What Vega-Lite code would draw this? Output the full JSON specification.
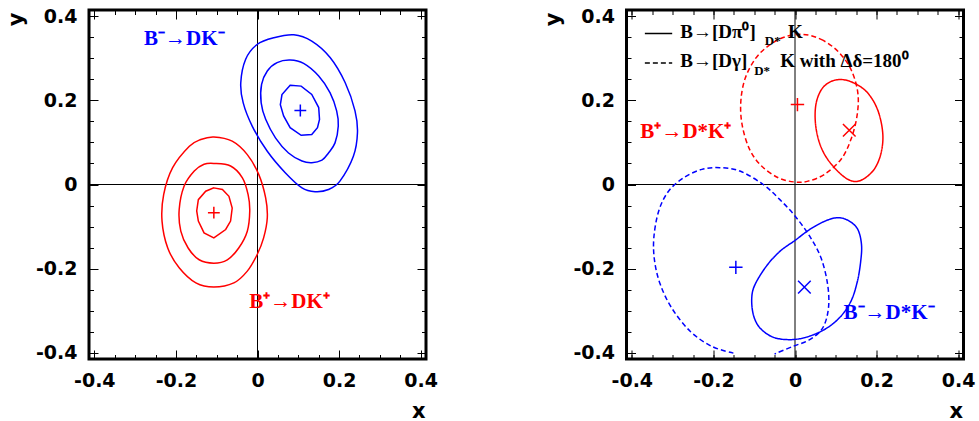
{
"$schema": "https://vega.github.io/schema/vega-lite/v6.json",
"background": "white",
"padding": {"left": 3, "top": 5, "right": 0, "bottom": 0},
"spacing": 200.5,
"bounds": "flush",
"datasets": {
"contours": [
{"p":"L","c":"Lb1","lv":"o","q":"minus","m":"DK","i":1,"x":0.040,"y":0.349},
{"p":"L","c":"Lb1","lv":"o","q":"minus","m":"DK","i":2,"x":0.089,"y":0.356},
{"p":"L","c":"Lb1","lv":"o","q":"minus","m":"DK","i":3,"x":0.133,"y":0.341},
{"p":"L","c":"Lb1","lv":"o","q":"minus","m":"DK","i":4,"x":0.178,"y":0.302},
{"p":"L","c":"Lb1","lv":"o","q":"minus","m":"DK","i":5,"x":0.215,"y":0.242},
{"p":"L","c":"Lb1","lv":"o","q":"minus","m":"DK","i":6,"x":0.239,"y":0.175},
{"p":"L","c":"Lb1","lv":"o","q":"minus","m":"DK","i":7,"x":0.245,"y":0.123},
{"p":"L","c":"Lb1","lv":"o","q":"minus","m":"DK","i":8,"x":0.235,"y":0.067},
{"p":"L","c":"Lb1","lv":"o","q":"minus","m":"DK","i":9,"x":0.202,"y":0.008},
{"p":"L","c":"Lb1","lv":"o","q":"minus","m":"DK","i":10,"x":0.174,"y":-0.012},
{"p":"L","c":"Lb1","lv":"o","q":"minus","m":"DK","i":11,"x":0.141,"y":-0.017},
{"p":"L","c":"Lb1","lv":"o","q":"minus","m":"DK","i":12,"x":0.109,"y":-0.008},
{"p":"L","c":"Lb1","lv":"o","q":"minus","m":"DK","i":13,"x":0.068,"y":0.028},
{"p":"L","c":"Lb1","lv":"o","q":"minus","m":"DK","i":14,"x":0.024,"y":0.079},
{"p":"L","c":"Lb1","lv":"o","q":"minus","m":"DK","i":15,"x":-0.013,"y":0.139},
{"p":"L","c":"Lb1","lv":"o","q":"minus","m":"DK","i":16,"x":-0.035,"y":0.194},
{"p":"L","c":"Lb1","lv":"o","q":"minus","m":"DK","i":17,"x":-0.041,"y":0.242},
{"p":"L","c":"Lb1","lv":"o","q":"minus","m":"DK","i":18,"x":-0.029,"y":0.298},
{"p":"L","c":"Lb1","lv":"o","q":"minus","m":"DK","i":19,"x":-0.001,"y":0.333},
{"p":"L","c":"Lb2","lv":"m","q":"minus","m":"DK","i":1,"x":0.048,"y":0.290},
{"p":"L","c":"Lb2","lv":"m","q":"minus","m":"DK","i":2,"x":0.080,"y":0.296},
{"p":"L","c":"Lb2","lv":"m","q":"minus","m":"DK","i":3,"x":0.113,"y":0.288},
{"p":"L","c":"Lb2","lv":"m","q":"minus","m":"DK","i":4,"x":0.150,"y":0.258},
{"p":"L","c":"Lb2","lv":"m","q":"minus","m":"DK","i":5,"x":0.178,"y":0.218},
{"p":"L","c":"Lb2","lv":"m","q":"minus","m":"DK","i":6,"x":0.194,"y":0.175},
{"p":"L","c":"Lb2","lv":"m","q":"minus","m":"DK","i":7,"x":0.198,"y":0.139},
{"p":"L","c":"Lb2","lv":"m","q":"minus","m":"DK","i":8,"x":0.190,"y":0.099},
{"p":"L","c":"Lb2","lv":"m","q":"minus","m":"DK","i":9,"x":0.174,"y":0.075},
{"p":"L","c":"Lb2","lv":"m","q":"minus","m":"DK","i":10,"x":0.158,"y":0.058},
{"p":"L","c":"Lb2","lv":"m","q":"minus","m":"DK","i":11,"x":0.133,"y":0.052},
{"p":"L","c":"Lb2","lv":"m","q":"minus","m":"DK","i":12,"x":0.109,"y":0.056},
{"p":"L","c":"Lb2","lv":"m","q":"minus","m":"DK","i":13,"x":0.076,"y":0.075},
{"p":"L","c":"Lb2","lv":"m","q":"minus","m":"DK","i":14,"x":0.044,"y":0.111},
{"p":"L","c":"Lb2","lv":"m","q":"minus","m":"DK","i":15,"x":0.020,"y":0.155},
{"p":"L","c":"Lb2","lv":"m","q":"minus","m":"DK","i":16,"x":0.009,"y":0.194},
{"p":"L","c":"Lb2","lv":"m","q":"minus","m":"DK","i":17,"x":0.010,"y":0.238},
{"p":"L","c":"Lb2","lv":"m","q":"minus","m":"DK","i":18,"x":0.024,"y":0.270},
{"p":"L","c":"Lb3","lv":"i","q":"minus","m":"DK","i":1,"x":0.080,"y":0.236},
{"p":"L","c":"Lb3","lv":"i","q":"minus","m":"DK","i":2,"x":0.107,"y":0.234},
{"p":"L","c":"Lb3","lv":"i","q":"minus","m":"DK","i":3,"x":0.133,"y":0.214},
{"p":"L","c":"Lb3","lv":"i","q":"minus","m":"DK","i":4,"x":0.150,"y":0.183},
{"p":"L","c":"Lb3","lv":"i","q":"minus","m":"DK","i":5,"x":0.152,"y":0.155},
{"p":"L","c":"Lb3","lv":"i","q":"minus","m":"DK","i":6,"x":0.147,"y":0.135},
{"p":"L","c":"Lb3","lv":"i","q":"minus","m":"DK","i":7,"x":0.133,"y":0.119},
{"p":"L","c":"Lb3","lv":"i","q":"minus","m":"DK","i":8,"x":0.107,"y":0.117},
{"p":"L","c":"Lb3","lv":"i","q":"minus","m":"DK","i":9,"x":0.080,"y":0.135},
{"p":"L","c":"Lb3","lv":"i","q":"minus","m":"DK","i":10,"x":0.064,"y":0.163},
{"p":"L","c":"Lb3","lv":"i","q":"minus","m":"DK","i":11,"x":0.056,"y":0.190},
{"p":"L","c":"Lb3","lv":"i","q":"minus","m":"DK","i":12,"x":0.060,"y":0.214},
{"p":"L","c":"Lr1","lv":"o","q":"plus","m":"DK","i":1,"x":-0.107,"y":0.113},
{"p":"L","c":"Lr1","lv":"o","q":"plus","m":"DK","i":2,"x":-0.062,"y":0.103},
{"p":"L","c":"Lr1","lv":"o","q":"plus","m":"DK","i":3,"x":-0.025,"y":0.071},
{"p":"L","c":"Lr1","lv":"o","q":"plus","m":"DK","i":4,"x":0.003,"y":0.024},
{"p":"L","c":"Lr1","lv":"o","q":"plus","m":"DK","i":5,"x":0.020,"y":-0.032},
{"p":"L","c":"Lr1","lv":"o","q":"plus","m":"DK","i":6,"x":0.024,"y":-0.079},
{"p":"L","c":"Lr1","lv":"o","q":"plus","m":"DK","i":7,"x":0.015,"y":-0.127},
{"p":"L","c":"Lr1","lv":"o","q":"plus","m":"DK","i":8,"x":-0.001,"y":-0.167},
{"p":"L","c":"Lr1","lv":"o","q":"plus","m":"DK","i":9,"x":-0.025,"y":-0.206},
{"p":"L","c":"Lr1","lv":"o","q":"plus","m":"DK","i":10,"x":-0.058,"y":-0.234},
{"p":"L","c":"Lr1","lv":"o","q":"plus","m":"DK","i":11,"x":-0.107,"y":-0.244},
{"p":"L","c":"Lr1","lv":"o","q":"plus","m":"DK","i":12,"x":-0.151,"y":-0.234},
{"p":"L","c":"Lr1","lv":"o","q":"plus","m":"DK","i":13,"x":-0.192,"y":-0.198},
{"p":"L","c":"Lr1","lv":"o","q":"plus","m":"DK","i":14,"x":-0.220,"y":-0.151},
{"p":"L","c":"Lr1","lv":"o","q":"plus","m":"DK","i":15,"x":-0.234,"y":-0.087},
{"p":"L","c":"Lr1","lv":"o","q":"plus","m":"DK","i":16,"x":-0.230,"y":-0.024},
{"p":"L","c":"Lr1","lv":"o","q":"plus","m":"DK","i":17,"x":-0.208,"y":0.040},
{"p":"L","c":"Lr1","lv":"o","q":"plus","m":"DK","i":18,"x":-0.167,"y":0.091},
{"p":"L","c":"Lr1","lv":"o","q":"plus","m":"DK","i":19,"x":-0.139,"y":0.107},
{"p":"L","c":"Lr2","lv":"m","q":"plus","m":"DK","i":1,"x":-0.107,"y":0.050},
{"p":"L","c":"Lr2","lv":"m","q":"plus","m":"DK","i":2,"x":-0.066,"y":0.044},
{"p":"L","c":"Lr2","lv":"m","q":"plus","m":"DK","i":3,"x":-0.037,"y":0.016},
{"p":"L","c":"Lr2","lv":"m","q":"plus","m":"DK","i":4,"x":-0.023,"y":-0.024},
{"p":"L","c":"Lr2","lv":"m","q":"plus","m":"DK","i":5,"x":-0.019,"y":-0.063},
{"p":"L","c":"Lr2","lv":"m","q":"plus","m":"DK","i":6,"x":-0.025,"y":-0.111},
{"p":"L","c":"Lr2","lv":"m","q":"plus","m":"DK","i":7,"x":-0.046,"y":-0.151},
{"p":"L","c":"Lr2","lv":"m","q":"plus","m":"DK","i":8,"x":-0.074,"y":-0.179},
{"p":"L","c":"Lr2","lv":"m","q":"plus","m":"DK","i":9,"x":-0.107,"y":-0.187},
{"p":"L","c":"Lr2","lv":"m","q":"plus","m":"DK","i":10,"x":-0.143,"y":-0.179},
{"p":"L","c":"Lr2","lv":"m","q":"plus","m":"DK","i":11,"x":-0.170,"y":-0.151},
{"p":"L","c":"Lr2","lv":"m","q":"plus","m":"DK","i":12,"x":-0.188,"y":-0.111},
{"p":"L","c":"Lr2","lv":"m","q":"plus","m":"DK","i":13,"x":-0.192,"y":-0.060},
{"p":"L","c":"Lr2","lv":"m","q":"plus","m":"DK","i":14,"x":-0.180,"y":-0.004},
{"p":"L","c":"Lr2","lv":"m","q":"plus","m":"DK","i":15,"x":-0.155,"y":0.032},
{"p":"L","c":"Lr2","lv":"m","q":"plus","m":"DK","i":16,"x":-0.131,"y":0.048},
{"p":"L","c":"Lr3","lv":"i","q":"plus","m":"DK","i":1,"x":-0.107,"y":-0.008},
{"p":"L","c":"Lr3","lv":"i","q":"plus","m":"DK","i":2,"x":-0.086,"y":-0.012},
{"p":"L","c":"Lr3","lv":"i","q":"plus","m":"DK","i":3,"x":-0.070,"y":-0.028},
{"p":"L","c":"Lr3","lv":"i","q":"plus","m":"DK","i":4,"x":-0.062,"y":-0.056},
{"p":"L","c":"Lr3","lv":"i","q":"plus","m":"DK","i":5,"x":-0.066,"y":-0.087},
{"p":"L","c":"Lr3","lv":"i","q":"plus","m":"DK","i":6,"x":-0.078,"y":-0.107},
{"p":"L","c":"Lr3","lv":"i","q":"plus","m":"DK","i":7,"x":-0.107,"y":-0.127},
{"p":"L","c":"Lr3","lv":"i","q":"plus","m":"DK","i":8,"x":-0.131,"y":-0.115},
{"p":"L","c":"Lr3","lv":"i","q":"plus","m":"DK","i":9,"x":-0.145,"y":-0.087},
{"p":"L","c":"Lr3","lv":"i","q":"plus","m":"DK","i":10,"x":-0.149,"y":-0.063},
{"p":"L","c":"Lr3","lv":"i","q":"plus","m":"DK","i":11,"x":-0.145,"y":-0.036},
{"p":"L","c":"Lr3","lv":"i","q":"plus","m":"DK","i":12,"x":-0.127,"y":-0.016},
{"p":"R","c":"Rr1","lv":"o","q":"plus","m":"Dgamma","i":1,"x":0.020,"y":0.357},
{"p":"R","c":"Rr1","lv":"o","q":"plus","m":"Dgamma","i":2,"x":0.064,"y":0.345},
{"p":"R","c":"Rr1","lv":"o","q":"plus","m":"Dgamma","i":3,"x":0.105,"y":0.317},
{"p":"R","c":"Rr1","lv":"o","q":"plus","m":"Dgamma","i":4,"x":0.137,"y":0.274},
{"p":"R","c":"Rr1","lv":"o","q":"plus","m":"Dgamma","i":5,"x":0.154,"y":0.218},
{"p":"R","c":"Rr1","lv":"o","q":"plus","m":"Dgamma","i":6,"x":0.152,"y":0.163},
{"p":"R","c":"Rr1","lv":"o","q":"plus","m":"Dgamma","i":7,"x":0.137,"y":0.107},
{"p":"R","c":"Rr1","lv":"o","q":"plus","m":"Dgamma","i":8,"x":0.113,"y":0.060},
{"p":"R","c":"Rr1","lv":"o","q":"plus","m":"Dgamma","i":9,"x":0.072,"y":0.024},
{"p":"R","c":"Rr1","lv":"o","q":"plus","m":"Dgamma","i":10,"x":0.032,"y":0.008},
{"p":"R","c":"Rr1","lv":"o","q":"plus","m":"Dgamma","i":11,"x":-0.001,"y":0.006},
{"p":"R","c":"Rr1","lv":"o","q":"plus","m":"Dgamma","i":12,"x":-0.041,"y":0.016},
{"p":"R","c":"Rr1","lv":"o","q":"plus","m":"Dgamma","i":13,"x":-0.082,"y":0.044},
{"p":"R","c":"Rr1","lv":"o","q":"plus","m":"Dgamma","i":14,"x":-0.111,"y":0.083},
{"p":"R","c":"Rr1","lv":"o","q":"plus","m":"Dgamma","i":15,"x":-0.129,"y":0.139},
{"p":"R","c":"Rr1","lv":"o","q":"plus","m":"Dgamma","i":16,"x":-0.133,"y":0.194},
{"p":"R","c":"Rr1","lv":"o","q":"plus","m":"Dgamma","i":17,"x":-0.123,"y":0.250},
{"p":"R","c":"Rr1","lv":"o","q":"plus","m":"Dgamma","i":18,"x":-0.098,"y":0.298},
{"p":"R","c":"Rr1","lv":"o","q":"plus","m":"Dgamma","i":19,"x":-0.066,"y":0.329},
{"p":"R","c":"Rr1","lv":"o","q":"plus","m":"Dgamma","i":20,"x":-0.025,"y":0.351},
{"p":"R","c":"Rr2","lv":"o","q":"plus","m":"Dpi0","i":1,"x":0.097,"y":0.248},
{"p":"R","c":"Rr2","lv":"o","q":"plus","m":"Dpi0","i":2,"x":0.133,"y":0.246},
{"p":"R","c":"Rr2","lv":"o","q":"plus","m":"Dpi0","i":3,"x":0.174,"y":0.222},
{"p":"R","c":"Rr2","lv":"o","q":"plus","m":"Dpi0","i":4,"x":0.202,"y":0.179},
{"p":"R","c":"Rr2","lv":"o","q":"plus","m":"Dpi0","i":5,"x":0.215,"y":0.123},
{"p":"R","c":"Rr2","lv":"o","q":"plus","m":"Dpi0","i":6,"x":0.211,"y":0.075},
{"p":"R","c":"Rr2","lv":"o","q":"plus","m":"Dpi0","i":7,"x":0.194,"y":0.036},
{"p":"R","c":"Rr2","lv":"o","q":"plus","m":"Dpi0","i":8,"x":0.166,"y":0.012},
{"p":"R","c":"Rr2","lv":"o","q":"plus","m":"Dpi0","i":9,"x":0.141,"y":0.008},
{"p":"R","c":"Rr2","lv":"o","q":"plus","m":"Dpi0","i":10,"x":0.113,"y":0.024},
{"p":"R","c":"Rr2","lv":"o","q":"plus","m":"Dpi0","i":11,"x":0.080,"y":0.060},
{"p":"R","c":"Rr2","lv":"o","q":"plus","m":"Dpi0","i":12,"x":0.060,"y":0.099},
{"p":"R","c":"Rr2","lv":"o","q":"plus","m":"Dpi0","i":13,"x":0.050,"y":0.147},
{"p":"R","c":"Rr2","lv":"o","q":"plus","m":"Dpi0","i":14,"x":0.052,"y":0.194},
{"p":"R","c":"Rr2","lv":"o","q":"plus","m":"Dpi0","i":15,"x":0.068,"y":0.230},
{"p":"R","c":"Rb2","lv":"o","q":"minus","m":"Dpi0","i":1,"x":0.107,"y":-0.079},
{"p":"R","c":"Rb2","lv":"o","q":"minus","m":"Dpi0","i":2,"x":0.133,"y":-0.087},
{"p":"R","c":"Rb2","lv":"o","q":"minus","m":"Dpi0","i":3,"x":0.154,"y":-0.107},
{"p":"R","c":"Rb2","lv":"o","q":"minus","m":"Dpi0","i":4,"x":0.163,"y":-0.143},
{"p":"R","c":"Rb2","lv":"o","q":"minus","m":"Dpi0","i":5,"x":0.161,"y":-0.183},
{"p":"R","c":"Rb2","lv":"o","q":"minus","m":"Dpi0","i":6,"x":0.153,"y":-0.230},
{"p":"R","c":"Rb2","lv":"o","q":"minus","m":"Dpi0","i":7,"x":0.137,"y":-0.278},
{"p":"R","c":"Rb2","lv":"o","q":"minus","m":"Dpi0","i":8,"x":0.109,"y":-0.317},
{"p":"R","c":"Rb2","lv":"o","q":"minus","m":"Dpi0","i":9,"x":0.072,"y":-0.345},
{"p":"R","c":"Rb2","lv":"o","q":"minus","m":"Dpi0","i":10,"x":0.028,"y":-0.363},
{"p":"R","c":"Rb2","lv":"o","q":"minus","m":"Dpi0","i":11,"x":-0.013,"y":-0.369},
{"p":"R","c":"Rb2","lv":"o","q":"minus","m":"Dpi0","i":12,"x":-0.054,"y":-0.363},
{"p":"R","c":"Rb2","lv":"o","q":"minus","m":"Dpi0","i":13,"x":-0.086,"y":-0.341},
{"p":"R","c":"Rb2","lv":"o","q":"minus","m":"Dpi0","i":14,"x":-0.102,"y":-0.310},
{"p":"R","c":"Rb2","lv":"o","q":"minus","m":"Dpi0","i":15,"x":-0.106,"y":-0.270},
{"p":"R","c":"Rb2","lv":"o","q":"minus","m":"Dpi0","i":16,"x":-0.098,"y":-0.238},
{"p":"R","c":"Rb2","lv":"o","q":"minus","m":"Dpi0","i":17,"x":-0.070,"y":-0.194},
{"p":"R","c":"Rb2","lv":"o","q":"minus","m":"Dpi0","i":18,"x":-0.037,"y":-0.159},
{"p":"R","c":"Rb2","lv":"o","q":"minus","m":"Dpi0","i":19,"x":0.000,"y":-0.133},
{"p":"R","c":"Rb2","lv":"o","q":"minus","m":"Dpi0","i":20,"x":0.036,"y":-0.107},
{"p":"R","c":"Rb2","lv":"o","q":"minus","m":"Dpi0","i":21,"x":0.076,"y":-0.086},
{"p":"R","c":"Rb1","lv":"open","q":"minus","m":"Dgamma","i":1,"x":-0.151,"y":-0.401},
{"p":"R","c":"Rb1","lv":"open","q":"minus","m":"Dgamma","i":2,"x":-0.204,"y":-0.385},
{"p":"R","c":"Rb1","lv":"open","q":"minus","m":"Dgamma","i":3,"x":-0.257,"y":-0.349},
{"p":"R","c":"Rb1","lv":"open","q":"minus","m":"Dgamma","i":4,"x":-0.302,"y":-0.294},
{"p":"R","c":"Rb1","lv":"open","q":"minus","m":"Dgamma","i":5,"x":-0.330,"y":-0.238},
{"p":"R","c":"Rb1","lv":"open","q":"minus","m":"Dgamma","i":6,"x":-0.344,"y":-0.183},
{"p":"R","c":"Rb1","lv":"open","q":"minus","m":"Dgamma","i":7,"x":-0.346,"y":-0.127},
{"p":"R","c":"Rb1","lv":"open","q":"minus","m":"Dgamma","i":8,"x":-0.334,"y":-0.063},
{"p":"R","c":"Rb1","lv":"open","q":"minus","m":"Dgamma","i":9,"x":-0.310,"y":-0.016},
{"p":"R","c":"Rb1","lv":"open","q":"minus","m":"Dgamma","i":10,"x":-0.273,"y":0.016},
{"p":"R","c":"Rb1","lv":"open","q":"minus","m":"Dgamma","i":11,"x":-0.228,"y":0.036},
{"p":"R","c":"Rb1","lv":"open","q":"minus","m":"Dgamma","i":12,"x":-0.184,"y":0.040},
{"p":"R","c":"Rb1","lv":"open","q":"minus","m":"Dgamma","i":13,"x":-0.135,"y":0.032},
{"p":"R","c":"Rb1","lv":"open","q":"minus","m":"Dgamma","i":14,"x":-0.078,"y":0.000},
{"p":"R","c":"Rb1","lv":"open","q":"minus","m":"Dgamma","i":15,"x":-0.037,"y":-0.036},
{"p":"R","c":"Rb1","lv":"open","q":"minus","m":"Dgamma","i":16,"x":0.000,"y":-0.075},
{"p":"R","c":"Rb1","lv":"open","q":"minus","m":"Dgamma","i":17,"x":0.036,"y":-0.123},
{"p":"R","c":"Rb1","lv":"open","q":"minus","m":"Dgamma","i":18,"x":0.064,"y":-0.175},
{"p":"R","c":"Rb1","lv":"open","q":"minus","m":"Dgamma","i":19,"x":0.080,"y":-0.238},
{"p":"R","c":"Rb1","lv":"open","q":"minus","m":"Dgamma","i":20,"x":0.082,"y":-0.294},
{"p":"R","c":"Rb1","lv":"open","q":"minus","m":"Dgamma","i":21,"x":0.068,"y":-0.341},
{"p":"R","c":"Rb1","lv":"open","q":"minus","m":"Dgamma","i":22,"x":0.036,"y":-0.369},
{"p":"R","c":"Rb1","lv":"open","q":"minus","m":"Dgamma","i":23,"x":-0.005,"y":-0.385},
{"p":"R","c":"Rb1","lv":"open","q":"minus","m":"Dgamma","i":24,"x":-0.050,"y":-0.403}
],
"markers": [
{"p":"L","q":"minus","m":"DK","x":0.105,"y":0.176},
{"p":"L","q":"plus","m":"DK","x":-0.107,"y":-0.067},
{"p":"R","q":"plus","m":"Dgamma","x":0.006,"y":0.190},
{"p":"R","q":"plus","m":"Dpi0","x":0.133,"y":0.129},
{"p":"R","q":"minus","m":"Dgamma","x":-0.145,"y":-0.197},
{"p":"R","q":"minus","m":"Dpi0","x":0.023,"y":-0.244}
],
"labels": [
{"p":"L","q":"minus","t":"B⁻→DK⁻","x":-0.278,"y":0.332},
{"p":"L","q":"plus","t":"B⁺→DK⁺","x":-0.020,"y":-0.294},
{"p":"R","q":"plus","t":"B⁺→D*K⁺","x":-0.379,"y":0.111},
{"p":"R","q":"minus","t":"B⁻→D*K⁻","x":0.119,"y":-0.319}
],
"legendText": [
{"r":"main","t":"B→[Dπ⁰]","x":-0.281,"y":0.348},
{"r":"sub","t":"D*","x":-0.074,"y":0.331},
{"r":"main","t":"K","x":-0.017,"y":0.348},
{"r":"main","t":"B→[Dγ]","x":-0.281,"y":0.279},
{"r":"sub","t":"D*","x":-0.100,"y":0.261},
{"r":"main","t":"K with Δδ=180⁰","x":-0.036,"y":0.279}
],
"legendLines": [
{"m":"Dpi0","x":-0.368,"x2":-0.301,"y":0.359},
{"m":"Dgamma","x":-0.368,"x2":-0.301,"y":0.289}
],
"zeros": [{"v":0}]
},
"hconcat": [
{
"width": 337, "height": 349,
"resolve": {"axis": {"x": "independent", "y": "independent"}},
"layer": [
{"data": {"name": "zeros"}, "mark": {"type": "rule", "color": "black", "strokeWidth": 1},
 "encoding": {"x": {"field": "v", "type": "quantitative", "scale": {"domain": [-0.413, 0.413], "nice": false, "zero": false}, "axis": null}}},
{"data": {"name": "zeros"}, "mark": {"type": "rule", "color": "black", "strokeWidth": 1},
 "encoding": {"y": {"field": "v", "type": "quantitative", "scale": {"domain": [-0.415, 0.415], "nice": false, "zero": false}, "axis": null}}},
{"data": {"name": "contours"}, "transform": [{"filter": "datum.p == 'L' && datum.lv != 'i'"}],
 "mark": {"type": "line", "interpolate": "cardinal-closed", "strokeWidth": 1.5},
 "encoding": {
  "x": {"field": "x", "type": "quantitative", "scale": {"domain": [-0.413, 0.413], "nice": false, "zero": false},
   "axis": {"orient": "bottom", "values": [-0.4, -0.2, 0, 0.2, 0.4], "ticks": false, "domain": false, "grid": false,
    "labelExpr": "datum.value < 0 ? '-' + format(-datum.value, '.1f') : (datum.value == 0 ? '0' : format(datum.value, '.1f'))",
    "labelFont": "DejaVu Sans", "labelFontWeight": "bold", "labelFontSize": 19, "labelColor": "black", "labelPadding": 27, "labelBaseline": "alphabetic", "labelFlush": false, "labelOverlap": false,
    "title": "x", "titleFont": "DejaVu Sans", "titleFontWeight": "bold", "titleFontSize": 21, "titleColor": "black", "titleAlign": "right", "titleBaseline": "alphabetic", "titleX": 336, "titleY": 58}},
  "y": {"field": "y", "type": "quantitative", "scale": {"domain": [-0.415, 0.415], "nice": false, "zero": false},
   "axis": {"orient": "left", "values": [-0.4, -0.2, 0, 0.2, 0.4], "ticks": false, "domain": false, "grid": false,
    "labelExpr": "datum.value < 0 ? '-' + format(-datum.value, '.1f') : (datum.value == 0 ? '0' : format(datum.value, '.1f'))",
    "labelFont": "DejaVu Sans", "labelFontWeight": "bold", "labelFontSize": 19, "labelColor": "black", "labelPadding": 12, "labelAlign": "right", "labelBaseline": "middle", "labelFlush": false, "labelOverlap": false,
    "title": "y", "titleFont": "DejaVu Sans", "titleFontWeight": "bold", "titleFontSize": 21, "titleColor": "black", "titleAngle": 270, "titleAlign": "right", "titleBaseline": "alphabetic", "titleX": -67, "titleY": 2}},
  "color": {"field": "q", "type": "nominal", "scale": {"domain": ["minus", "plus"], "range": ["#0000ff", "#ff0000"]}, "legend": null},
  "detail": {"field": "c"},
  "order": {"field": "i", "type": "quantitative"}
 }},
{"data": {"name": "contours"}, "transform": [{"filter": "datum.p == 'L' && datum.lv == 'i'"}],
 "mark": {"type": "line", "interpolate": "linear-closed", "strokeWidth": 1.5},
 "encoding": {
  "x": {"field": "x", "type": "quantitative", "scale": {"domain": [-0.413, 0.413], "nice": false, "zero": false},
   "axis": {"orient": "bottom", "values": [-0.4, -0.2, 0, 0.2, 0.4], "labels": false, "domain": false, "grid": false, "ticks": true, "tickSize": -9, "tickColor": "black", "tickWidth": 1, "title": null}},
  "y": {"field": "y", "type": "quantitative", "scale": {"domain": [-0.415, 0.415], "nice": false, "zero": false},
   "axis": {"orient": "left", "values": [-0.4, -0.2, 0, 0.2, 0.4], "labels": false, "domain": false, "grid": false, "ticks": true, "tickSize": -9, "tickColor": "black", "tickWidth": 1, "title": null}},
  "color": {"field": "q", "type": "nominal", "scale": {"domain": ["minus", "plus"], "range": ["#0000ff", "#ff0000"]}, "legend": null},
  "detail": {"field": "c"},
  "order": {"field": "i", "type": "quantitative"}
 }},
{"data": {"name": "markers"}, "transform": [{"filter": "datum.p == 'L'"}],
 "mark": {"type": "point", "filled": false, "strokeWidth": 1.5, "opacity": 1},
 "encoding": {
  "x": {"field": "x", "type": "quantitative", "scale": {"domain": [-0.413, 0.413], "nice": false, "zero": false},
   "axis": {"orient": "bottom", "values": [-0.4,-0.35,-0.3,-0.25,-0.2,-0.15,-0.1,-0.05,0,0.05,0.1,0.15,0.2,0.25,0.3,0.35,0.4], "labels": false, "domain": false, "grid": false, "ticks": true, "tickSize": -4.5, "tickColor": "black", "tickWidth": 1, "title": null}},
  "y": {"field": "y", "type": "quantitative", "scale": {"domain": [-0.415, 0.415], "nice": false, "zero": false},
   "axis": {"orient": "left", "values": [-0.4,-0.35,-0.3,-0.25,-0.2,-0.15,-0.1,-0.05,0,0.05,0.1,0.15,0.2,0.25,0.3,0.35,0.4], "labels": false, "domain": false, "grid": false, "ticks": true, "tickSize": -4.5, "tickColor": "black", "tickWidth": 1, "title": null}},
  "color": {"field": "q", "type": "nominal", "scale": {"domain": ["minus", "plus"], "range": ["#0000ff", "#ff0000"]}, "legend": null},
  "shape": {"field": "m", "type": "nominal", "scale": {"domain": ["DK", "Dpi0", "Dgamma"], "range": ["M-1,0L1,0M0,-1L0,1", "M-1,-1L1,1M-1,1L1,-1", "M-1,0L1,0M0,-1L0,1"]}, "legend": null},
  "size": {"field": "m", "type": "nominal", "scale": {"domain": ["DK", "Dpi0", "Dgamma"], "range": [140, 180, 196]}, "legend": null}
 }},
{"data": {"name": "labels"}, "transform": [{"filter": "datum.p == 'L' && datum.q == 'minus'"}],
 "mark": {"type": "text", "font": "Liberation Serif", "fontWeight": "bold", "fontSize": 21, "align": "left", "baseline": "alphabetic"},
 "encoding": {
  "x": {"field": "x", "type": "quantitative", "scale": {"domain": [-0.413, 0.413], "nice": false, "zero": false},
   "axis": {"orient": "top", "values": [-0.4, -0.2, 0, 0.2, 0.4], "labels": false, "domain": false, "grid": false, "ticks": true, "tickSize": -9, "tickColor": "black", "tickWidth": 1, "title": null}},
  "y": {"field": "y", "type": "quantitative", "scale": {"domain": [-0.415, 0.415], "nice": false, "zero": false},
   "axis": {"orient": "right", "values": [-0.4, -0.2, 0, 0.2, 0.4], "labels": false, "domain": false, "grid": false, "ticks": true, "tickSize": -9, "tickColor": "black", "tickWidth": 1, "title": null}},
  "text": {"field": "t"},
  "color": {"field": "q", "type": "nominal", "scale": {"domain": ["minus", "plus"], "range": ["#0000ff", "#ff0000"]}, "legend": null}
 }},
{"data": {"name": "labels"}, "transform": [{"filter": "datum.p == 'L' && datum.q == 'plus'"}],
 "mark": {"type": "text", "font": "Liberation Serif", "fontWeight": "bold", "fontSize": 21, "align": "left", "baseline": "alphabetic"},
 "encoding": {
  "x": {"field": "x", "type": "quantitative", "scale": {"domain": [-0.413, 0.413], "nice": false, "zero": false},
   "axis": {"orient": "top", "values": [-0.4,-0.35,-0.3,-0.25,-0.2,-0.15,-0.1,-0.05,0,0.05,0.1,0.15,0.2,0.25,0.3,0.35,0.4], "labels": false, "domain": false, "grid": false, "ticks": true, "tickSize": -4.5, "tickColor": "black", "tickWidth": 1, "title": null}},
  "y": {"field": "y", "type": "quantitative", "scale": {"domain": [-0.415, 0.415], "nice": false, "zero": false},
   "axis": {"orient": "right", "values": [-0.4,-0.35,-0.3,-0.25,-0.2,-0.15,-0.1,-0.05,0,0.05,0.1,0.15,0.2,0.25,0.3,0.35,0.4], "labels": false, "domain": false, "grid": false, "ticks": true, "tickSize": -4.5, "tickColor": "black", "tickWidth": 1, "title": null}},
  "text": {"field": "t"},
  "color": {"field": "q", "type": "nominal", "scale": {"domain": ["minus", "plus"], "range": ["#0000ff", "#ff0000"]}, "legend": null}
 }}
]
},
{
"width": 337, "height": 349,
"resolve": {"axis": {"x": "independent", "y": "independent"}},
"layer": [
{"data": {"name": "zeros"}, "mark": {"type": "rule", "color": "black", "strokeWidth": 1},
 "encoding": {"x": {"field": "v", "type": "quantitative", "scale": {"domain": [-0.413, 0.413], "nice": false, "zero": false}, "axis": null}}},
{"data": {"name": "zeros"}, "mark": {"type": "rule", "color": "black", "strokeWidth": 1},
 "encoding": {"y": {"field": "v", "type": "quantitative", "scale": {"domain": [-0.415, 0.415], "nice": false, "zero": false}, "axis": null}}},
{"data": {"name": "contours"}, "transform": [{"filter": "datum.p == 'R' && datum.lv != 'open'"}],
 "mark": {"type": "line", "interpolate": "cardinal-closed", "strokeWidth": 1.5},
 "encoding": {
  "x": {"field": "x", "type": "quantitative", "scale": {"domain": [-0.413, 0.413], "nice": false, "zero": false},
   "axis": {"orient": "bottom", "values": [-0.4, -0.2, 0, 0.2, 0.4], "ticks": false, "domain": false, "grid": false,
    "labelExpr": "datum.value < 0 ? '-' + format(-datum.value, '.1f') : (datum.value == 0 ? '0' : format(datum.value, '.1f'))",
    "labelFont": "DejaVu Sans", "labelFontWeight": "bold", "labelFontSize": 19, "labelColor": "black", "labelPadding": 27, "labelBaseline": "alphabetic", "labelFlush": false, "labelOverlap": false,
    "title": "x", "titleFont": "DejaVu Sans", "titleFontWeight": "bold", "titleFontSize": 21, "titleColor": "black", "titleAlign": "right", "titleBaseline": "alphabetic", "titleX": 336, "titleY": 58}},
  "y": {"field": "y", "type": "quantitative", "scale": {"domain": [-0.415, 0.415], "nice": false, "zero": false},
   "axis": {"orient": "left", "values": [-0.4, -0.2, 0, 0.2, 0.4], "ticks": false, "domain": false, "grid": false,
    "labelExpr": "datum.value < 0 ? '-' + format(-datum.value, '.1f') : (datum.value == 0 ? '0' : format(datum.value, '.1f'))",
    "labelFont": "DejaVu Sans", "labelFontWeight": "bold", "labelFontSize": 19, "labelColor": "black", "labelPadding": 12, "labelAlign": "right", "labelBaseline": "middle", "labelFlush": false, "labelOverlap": false,
    "title": "y", "titleFont": "DejaVu Sans", "titleFontWeight": "bold", "titleFontSize": 21, "titleColor": "black", "titleAngle": 270, "titleAlign": "right", "titleBaseline": "alphabetic", "titleX": -67, "titleY": 2}},
  "color": {"field": "q", "type": "nominal", "scale": {"domain": ["minus", "plus"], "range": ["#0000ff", "#ff0000"]}, "legend": null},
  "strokeDash": {"field": "m", "type": "nominal", "scale": {"domain": ["DK", "Dpi0", "Dgamma"], "range": [[1, 0], [1, 0], [5, 3]]}, "legend": null},
  "detail": {"field": "c"},
  "order": {"field": "i", "type": "quantitative"}
 }},
{"data": {"name": "contours"}, "transform": [{"filter": "datum.p == 'R' && datum.lv == 'open'"}],
 "mark": {"type": "line", "interpolate": "cardinal", "strokeWidth": 1.5},
 "encoding": {
  "x": {"field": "x", "type": "quantitative", "scale": {"domain": [-0.413, 0.413], "nice": false, "zero": false},
   "axis": {"orient": "bottom", "values": [-0.4, -0.2, 0, 0.2, 0.4], "labels": false, "domain": false, "grid": false, "ticks": true, "tickSize": -9, "tickColor": "black", "tickWidth": 1, "title": null}},
  "y": {"field": "y", "type": "quantitative", "scale": {"domain": [-0.415, 0.415], "nice": false, "zero": false},
   "axis": {"orient": "left", "values": [-0.4, -0.2, 0, 0.2, 0.4], "labels": false, "domain": false, "grid": false, "ticks": true, "tickSize": -9, "tickColor": "black", "tickWidth": 1, "title": null}},
  "color": {"field": "q", "type": "nominal", "scale": {"domain": ["minus", "plus"], "range": ["#0000ff", "#ff0000"]}, "legend": null},
  "strokeDash": {"field": "m", "type": "nominal", "scale": {"domain": ["DK", "Dpi0", "Dgamma"], "range": [[1, 0], [1, 0], [5, 3]]}, "legend": null},
  "detail": {"field": "c"},
  "order": {"field": "i", "type": "quantitative"}
 }},
{"data": {"name": "markers"}, "transform": [{"filter": "datum.p == 'R'"}],
 "mark": {"type": "point", "filled": false, "strokeWidth": 1.5, "opacity": 1},
 "encoding": {
  "x": {"field": "x", "type": "quantitative", "scale": {"domain": [-0.413, 0.413], "nice": false, "zero": false},
   "axis": {"orient": "bottom", "values": [-0.4,-0.35,-0.3,-0.25,-0.2,-0.15,-0.1,-0.05,0,0.05,0.1,0.15,0.2,0.25,0.3,0.35,0.4], "labels": false, "domain": false, "grid": false, "ticks": true, "tickSize": -4.5, "tickColor": "black", "tickWidth": 1, "title": null}},
  "y": {"field": "y", "type": "quantitative", "scale": {"domain": [-0.415, 0.415], "nice": false, "zero": false},
   "axis": {"orient": "left", "values": [-0.4,-0.35,-0.3,-0.25,-0.2,-0.15,-0.1,-0.05,0,0.05,0.1,0.15,0.2,0.25,0.3,0.35,0.4], "labels": false, "domain": false, "grid": false, "ticks": true, "tickSize": -4.5, "tickColor": "black", "tickWidth": 1, "title": null}},
  "color": {"field": "q", "type": "nominal", "scale": {"domain": ["minus", "plus"], "range": ["#0000ff", "#ff0000"]}, "legend": null},
  "shape": {"field": "m", "type": "nominal", "scale": {"domain": ["DK", "Dpi0", "Dgamma"], "range": ["M-1,0L1,0M0,-1L0,1", "M-1,-1L1,1M-1,1L1,-1", "M-1,0L1,0M0,-1L0,1"]}, "legend": null},
  "size": {"field": "m", "type": "nominal", "scale": {"domain": ["DK", "Dpi0", "Dgamma"], "range": [140, 180, 196]}, "legend": null}
 }},
{"data": {"name": "labels"}, "transform": [{"filter": "datum.p == 'R'"}],
 "mark": {"type": "text", "font": "Liberation Serif", "fontWeight": "bold", "fontSize": 21, "align": "left", "baseline": "alphabetic"},
 "encoding": {
  "x": {"field": "x", "type": "quantitative", "scale": {"domain": [-0.413, 0.413], "nice": false, "zero": false},
   "axis": {"orient": "top", "values": [-0.4, -0.2, 0, 0.2, 0.4], "labels": false, "domain": false, "grid": false, "ticks": true, "tickSize": -9, "tickColor": "black", "tickWidth": 1, "title": null}},
  "y": {"field": "y", "type": "quantitative", "scale": {"domain": [-0.415, 0.415], "nice": false, "zero": false},
   "axis": {"orient": "right", "values": [-0.4, -0.2, 0, 0.2, 0.4], "labels": false, "domain": false, "grid": false, "ticks": true, "tickSize": -9, "tickColor": "black", "tickWidth": 1, "title": null}},
  "text": {"field": "t"},
  "color": {"field": "q", "type": "nominal", "scale": {"domain": ["minus", "plus"], "range": ["#0000ff", "#ff0000"]}, "legend": null}
 }},
{"data": {"name": "legendText"}, "transform": [{"filter": "datum.r == 'main'"}],
 "mark": {"type": "text", "font": "Liberation Serif", "fontWeight": "bold", "fontSize": 19, "align": "left", "baseline": "alphabetic", "color": "black"},
 "encoding": {
  "x": {"field": "x", "type": "quantitative", "scale": {"domain": [-0.413, 0.413], "nice": false, "zero": false},
   "axis": {"orient": "top", "values": [-0.4,-0.35,-0.3,-0.25,-0.2,-0.15,-0.1,-0.05,0,0.05,0.1,0.15,0.2,0.25,0.3,0.35,0.4], "labels": false, "domain": false, "grid": false, "ticks": true, "tickSize": -4.5, "tickColor": "black", "tickWidth": 1, "title": null}},
  "y": {"field": "y", "type": "quantitative", "scale": {"domain": [-0.415, 0.415], "nice": false, "zero": false},
   "axis": {"orient": "right", "values": [-0.4,-0.35,-0.3,-0.25,-0.2,-0.15,-0.1,-0.05,0,0.05,0.1,0.15,0.2,0.25,0.3,0.35,0.4], "labels": false, "domain": false, "grid": false, "ticks": true, "tickSize": -4.5, "tickColor": "black", "tickWidth": 1, "title": null}},
  "text": {"field": "t"}
 }},
{"data": {"name": "legendText"}, "transform": [{"filter": "datum.r == 'sub'"}],
 "mark": {"type": "text", "font": "Liberation Serif", "fontWeight": "bold", "fontSize": 13, "align": "left", "baseline": "alphabetic", "color": "black"},
 "encoding": {
  "x": {"field": "x", "type": "quantitative", "scale": {"domain": [-0.413, 0.413], "nice": false, "zero": false}, "axis": null},
  "y": {"field": "y", "type": "quantitative", "scale": {"domain": [-0.415, 0.415], "nice": false, "zero": false}, "axis": null},
  "text": {"field": "t"}
 }},
{"data": {"name": "legendLines"},
 "mark": {"type": "rule", "color": "black", "strokeWidth": 1.5},
 "encoding": {
  "x": {"field": "x", "type": "quantitative", "scale": {"domain": [-0.413, 0.413], "nice": false, "zero": false}, "axis": null},
  "x2": {"field": "x2"},
  "y": {"field": "y", "type": "quantitative", "scale": {"domain": [-0.415, 0.415], "nice": false, "zero": false}, "axis": null},
  "strokeDash": {"field": "m", "type": "nominal", "scale": {"domain": ["DK", "Dpi0", "Dgamma"], "range": [[1, 0], [1, 0], [5, 3]]}, "legend": null}
 }}
]
}
],
"config": {
 "view": {"stroke": "black", "strokeWidth": 3},
 "axis": {"domain": false, "grid": false, "tickColor": "black", "labelColor": "black", "titleColor": "black"}
}
}
